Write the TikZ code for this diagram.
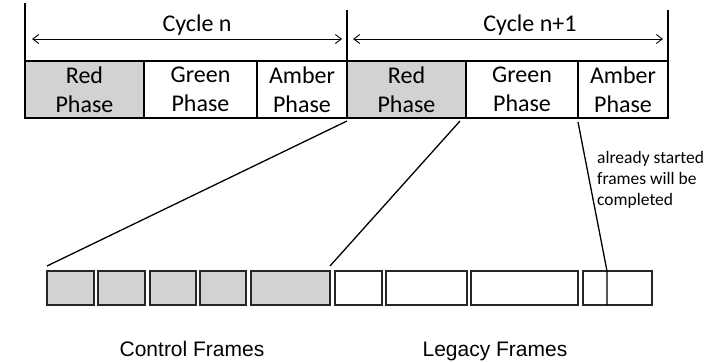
\documentclass[tikz,border=0pt]{standalone}
\usepackage{fontspec}
\setmainfont{Carlito}
\newfontfamily\arialFont{Liberation Sans}
\usetikzlibrary{arrows.meta}
\tikzstyle{timeline} = [x = 1pt, y = -1pt]
\definecolor{redPhaseGray}{RGB}{210,210,210}
\tikzstyle{phaseStyle} = [draw=black, line width=1.6pt, anchor=north west, minimum height=57pt, inner sep=0pt, outer sep=0pt, align=center, font=\fontsize{24}{29}\selectfont]
\tikzstyle{frameStyle} = [draw=black!85, line width=2.2pt, anchor=north west, minimum height=34pt, inner sep=0pt, outer sep=0pt]
\tikzstyle{cycleArrow} = [{Straight Barb[length=6pt,width=9pt]}-{Straight Barb[length=6pt,width=9pt]}, line width=0.9pt]
\tikzstyle{guideLine} = [line width=1.3pt]
\tikzstyle{cycleText} = [font=\fontsize{24}{28}\selectfont, anchor=base, inner sep=0pt]
\tikzstyle{groupText} = [font=\arialFont\fontsize{21}{25}\selectfont, anchor=base, inner sep=0pt]
\tikzstyle{noteText} = [font=\fontsize{17.5}{21}\selectfont, align=left, anchor=north west, inner sep=0pt]
\newcommand{\phaseCell}[5]{\node [phaseStyle, fill=#4, minimum width=#3pt] (#1) at (#2, 61) {#5};}
\newcommand{\frameBox}[4]{\node [frameStyle, fill=#4, minimum width=#3pt] (#1) at (#2, 271) {};}
\begin{document}
\begin{tikzpicture}[timeline]
  \useasboundingbox (0,0) rectangle (711,361);
  % phases of the two cycles
  \phaseCell{red1}{25}{119}{redPhaseGray}{Red\\Phase}
  \phaseCell{green1}{144}{113}{white}{Green\\Phase}
  \phaseCell{amber1}{257}{90}{white}{Amber\\Phase}
  \phaseCell{red2}{347}{119}{redPhaseGray}{Red\\Phase}
  \phaseCell{green2}{466}{112}{white}{Green\\Phase}
  \phaseCell{amber2}{578}{90}{white}{Amber\\Phase}
  % cycle limits
  \coordinate (cycleStart) at (25,3);
  \coordinate (cycleMid) at (347,10);
  \coordinate (cycleEnd) at (668,10);
  \draw [guideLine] (cycleStart) -- (red1.north west);
  \draw [guideLine] (cycleMid) -- (red2.south west);
  \draw [guideLine] (cycleEnd) -- (amber2.north east);
  \coordinate (nLeft) at (32,39);
  \coordinate (nRight) at (342,39);
  \coordinate (nextLeft) at (353,39);
  \coordinate (nextRight) at (663,39);
  \draw [cycleArrow] (nLeft) -- (nRight);
  \draw [cycleArrow] (nextLeft) -- (nextRight);
  \node [cycleText] (cycleN) at (197,32) {Cycle n};
  \node [cycleText] (cycleNext) at (530,32) {Cycle n+1};
  % frames
  \frameBox{ctrl1}{47}{47}{redPhaseGray}
  \frameBox{ctrl2}{98}{47}{redPhaseGray}
  \frameBox{ctrl3}{150}{46}{redPhaseGray}
  \frameBox{ctrl4}{200}{46}{redPhaseGray}
  \frameBox{ctrl5}{251}{79}{redPhaseGray}
  \frameBox{leg1}{335}{47}{white}
  \frameBox{leg2}{386}{81}{white}
  \frameBox{leg3}{471}{107}{white}
  \frameBox{leg4}{583}{69}{white}
  % mapping of phases to frames
  \draw [guideLine] ([yshift=-3pt]red2.south west) -- ([yshift=5pt]ctrl1.north west);
  \draw [guideLine] ([xshift=-6pt,yshift=-3pt]green2.south west) -- ([yshift=5pt]ctrl5.north east);
  \coordinate (completeTop) at ([xshift=24pt]leg4.north west);
  \draw [guideLine] ([yshift=-4pt]amber2.south west) -- (completeTop) -- (completeTop |- leg4.south);
  \node [noteText] (note) at (597,151) {already started\\frames will be\\completed};
  \node [groupText] (ctrlLabel) at (192,356) {Control Frames};
  \node [groupText] (legLabel) at (495,356) {Legacy Frames};
\end{tikzpicture}
\end{document}
